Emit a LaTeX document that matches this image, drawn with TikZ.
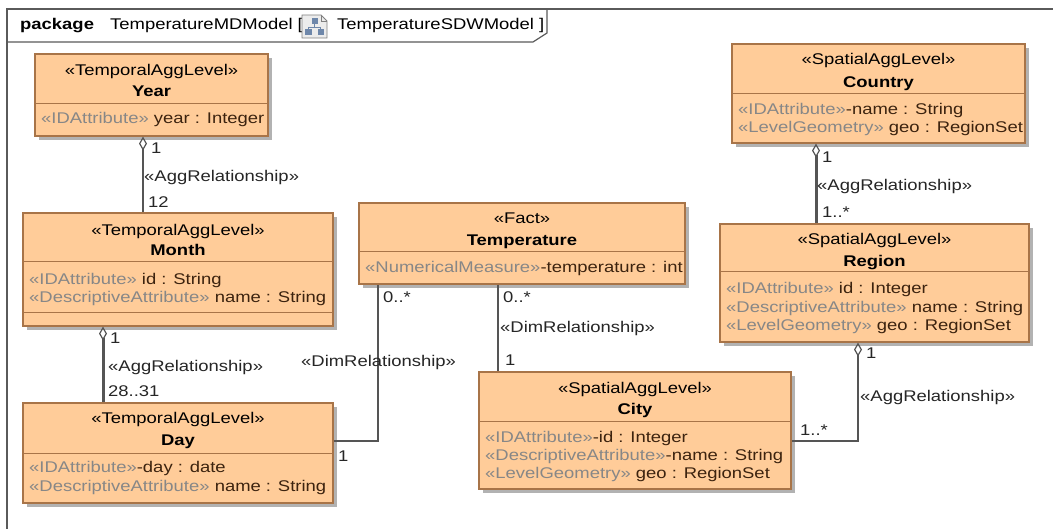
\documentclass[tikz,border=0pt]{standalone}
\usepackage{fontspec}
\setmainfont{Liberation Sans}[FakeStretch=1.19]
\usetikzlibrary{shadows,arrows.meta}
\definecolor{boxfill}{RGB}{255,204,153}
\definecolor{boxline}{RGB}{168,116,72}
\definecolor{stgray}{RGB}{135,135,135}
\definecolor{attrc}{RGB}{60,35,15}
\definecolor{conn}{RGB}{85,85,85}
\definecolor{shadowc}{RGB}{178,178,178}
\definecolor{framec}{RGB}{90,90,90}
\definecolor{iconblue}{RGB}{110,135,170}
\definecolor{iconbg}{RGB}{236,236,236}
\newcommand{\mystereo}[1]{\textcolor{stgray}{«#1»}}
\tikzset{
 cls/.style={draw=boxline, line width=1.2pt, fill=boxfill, inner sep=0pt,
   drop shadow={shadow xshift=4pt, shadow yshift=-4pt, fill=shadowc, opacity=1}},
 txt/.style={inner sep=0pt, text height=13pt, text depth=2pt, font=\fontsize{15.5}{18}\selectfont},
 sttxt/.style={txt},
 nmtxt/.style={txt, font=\fontsize{15.5}{18}\selectfont\bfseries},
 attrtxt/.style={txt, anchor=west, text=attrc},
 lbl/.style={txt, anchor=west, text=black!85},
 conline/.style={draw=conn, line width=1.6pt},
 agg/.style={conline, {Diamond[open,length=14pt,width=8pt,line width=1.2pt]}-},
 divl/.style={draw=boxline, line width=1pt},
}
\begin{document}
\begin{tikzpicture}[x=1pt,y=-1pt]
\useasboundingbox (0,0) rectangle (1053,529);
\fill[white] (0,0) rectangle (1053,529);
\clip (0,0) rectangle (1053,529);
% package frame
\draw[framec, line width=1.5pt] (7,560) -- (7,9) -- (1080,9);
\draw[framec, line width=1.2pt] (7,42) -- (533,42) -- (547,33) -- (547,9);
\node[nmtxt, anchor=west] (pkw) at (20,24) {package};
\node[txt, anchor=west] (pkn) at (110,24) {TemperatureMDModel [};
% icon
\draw[gray, line width=0.8pt, fill=iconbg] (302,15) -- (321,15) -- (327,21) -- (327,38) -- (302,38) -- cycle;
\draw[gray, line width=0.6pt] (321,15) -- (321,21) -- (327,21);
\fill[iconblue] (311.5,18.5) rectangle (318,24.5);
\fill[iconblue] (305,29) rectangle (311.5,35);
\fill[iconblue] (317.5,29) rectangle (324,35);
\draw[iconblue, line width=0.7pt] (314.75,24.5) -- (314.75,27) (308.25,27) -- (320.75,27) (308.25,27) -- (308.25,29) (320.75,27) -- (320.75,29);
\node[txt, anchor=west] (pks) at (337,24) {TemperatureSDWModel ]};

% Year
\node[cls, minimum width=233pt, minimum height=82pt] (year) at (151.5,95) {};
\draw[divl] (year.west |- 0,104) -- (year.east |- 0,104);
\node[sttxt] at (151.5,70) {«TemporalAggLevel»};
\node[nmtxt] at (151.5,91) {Year};
\node[attrtxt] at (41,118) {\mystereo{IDAttribute} year : Integer};

% Month
\node[cls, minimum width=310pt, minimum height=113pt] (month) at (178,269.5) {};
\draw[divl] (month.west |- 0,262) -- (month.east |- 0,262);
\draw[divl] (month.west |- 0,313) -- (month.east |- 0,313);
\node[sttxt] at (178,230) {«TemporalAggLevel»};
\node[nmtxt] at (178,250) {Month};
\node[attrtxt] at (29,279) {\mystereo{IDAttribute} id : String};
\node[attrtxt] at (29,297) {\mystereo{DescriptiveAttribute} name : String};

% Day
\node[cls, minimum width=310pt, minimum height=100pt] (day) at (178,453) {};
\draw[divl] (day.west |- 0,453) -- (day.east |- 0,453);
\node[sttxt] at (178,418) {«TemporalAggLevel»};
\node[nmtxt] at (178,440) {Day};
\node[attrtxt] at (29,467) {\mystereo{IDAttribute}-day : date};
\node[attrtxt] at (29,486) {\mystereo{DescriptiveAttribute} name : String};

% Temperature
\node[cls, minimum width=326pt, minimum height=81pt] (temp) at (522,243.5) {};
\draw[divl] (temp.west |- 0,252) -- (temp.east |- 0,252);
\node[sttxt] at (522,218) {«Fact»};
\node[nmtxt] at (522,240) {Temperature};
\node[attrtxt] at (365,267) {\mystereo{NumericalMeasure}-temperature : int};

% City
\node[cls, minimum width=312pt, minimum height=117pt] (city) at (635,430.5) {};
\draw[divl] (city.west |- 0,422) -- (city.east |- 0,422);
\node[sttxt] at (635,388) {«SpatialAggLevel»};
\node[nmtxt] at (635,409) {City};
\node[attrtxt] at (485,437) {\mystereo{IDAttribute}-id : Integer};
\node[attrtxt] at (485,455) {\mystereo{DescriptiveAttribute}-name : String};
\node[attrtxt] at (485,473) {\mystereo{LevelGeometry} geo : RegionSet};

% Country
\node[cls, minimum width=293pt, minimum height=99pt] (country) at (878.5,93.5) {};
\draw[divl] (country.west |- 0,94) -- (country.east |- 0,94);
\node[sttxt] at (878.5,59) {«SpatialAggLevel»};
\node[nmtxt] at (878.5,82) {Country};
\node[attrtxt] at (738,109) {\mystereo{IDAttribute}-name : String};
\node[attrtxt] at (738,127) {\mystereo{LevelGeometry} geo : RegionSet};

% Region
\node[cls, minimum width=309pt, minimum height=118pt] (region) at (874.5,283) {};
\draw[divl] (region.west |- 0,272) -- (region.east |- 0,272);
\node[sttxt] at (874.5,239) {«SpatialAggLevel»};
\node[nmtxt] at (874.5,261) {Region};
\node[attrtxt] at (726,288) {\mystereo{IDAttribute} id : Integer};
\node[attrtxt] at (726,307) {\mystereo{DescriptiveAttribute} name : String};
\node[attrtxt] at (726,325) {\mystereo{LevelGeometry} geo : RegionSet};

% connectors
\coordinate (ymx) at (143,0);
\coordinate (mdx) at (103,0);
\coordinate (tdx) at (378,0);
\coordinate (tcx) at (498,0);
\coordinate (crx) at (816,0);
\coordinate (rcx) at (858,0);
\draw[agg, line width=2pt] (year.south -| ymx) -- (month.north -| ymx);
\draw[agg, line width=3pt] (month.south -| mdx) -- (day.north -| mdx);
\draw[conline] (day.east |- 0,441) -| (temp.south -| tdx);
\draw[conline] (temp.south -| tcx) -- (city.north -| tcx);
\draw[agg, line width=3pt] (country.south -| crx) -- (region.north -| crx);
\draw[agg] (region.south -| rcx) |- (city.east |- 0,441);

% connector labels
\node[lbl] at (151,148) {1};
\node[lbl] at (144,176) {«AggRelationship»};
\node[lbl] at (148,202) {12};
\node[lbl] at (110,338) {1};
\node[lbl] at (108,366) {«AggRelationship»};
\node[lbl] at (108,391) {28..31};
\node[lbl] at (383,297) {0..*};
\node[lbl] at (338,456) {1};
\node[lbl] at (301,361) {«DimRelationship»};
\node[lbl] at (503,297) {0..*};
\node[lbl] at (500,327) {«DimRelationship»};
\node[lbl] at (505,360) {1};
\node[lbl] at (822,157) {1};
\node[lbl] at (817,185) {«AggRelationship»};
\node[lbl] at (822,212) {1..*};
\node[lbl] at (866,353) {1};
\node[lbl] at (860,396) {«AggRelationship»};
\node[lbl] at (800,430) {1..*};
\end{tikzpicture}
\end{document}
